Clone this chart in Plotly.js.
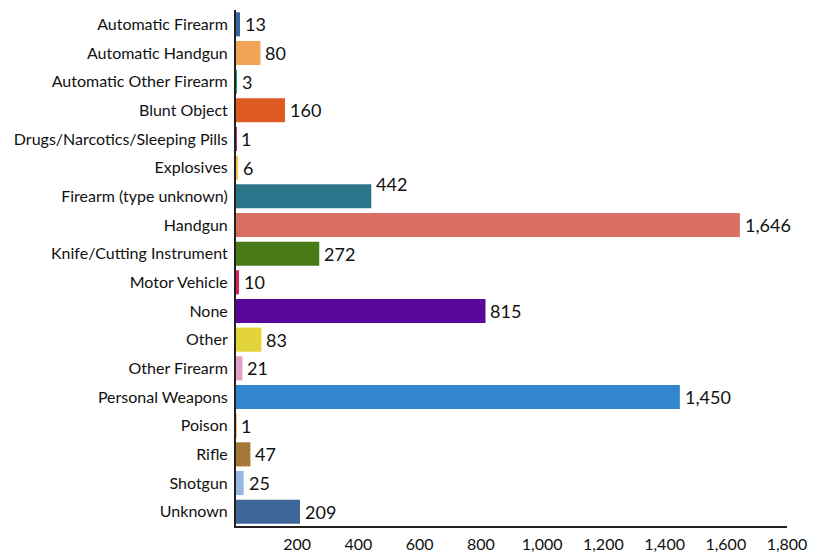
<!DOCTYPE html>
<html><head><meta charset="utf-8">
<script src="https://cdn.plot.ly/plotly-3.0.1.min.js"></script>
<style>html,body{margin:0;padding:0;background:#fff}#chart{width:825px;height:555px}</style>
</head><body><div id="chart"></div>
<script>
const categories = ["Automatic Firearm","Automatic Handgun","Automatic Other Firearm","Blunt Object","Drugs/Narcotics/Sleeping Pills","Explosives","Firearm (type unknown)","Handgun","Knife/Cutting Instrument","Motor Vehicle","None","Other","Other Firearm","Personal Weapons","Poison","Rifle","Shotgun","Unknown"];
const values = [13,80,3,160,1,6,442,1646,272,10,815,83,21,1450,1,47,25,209];
const colors = ["#3a66a0","#f0a455","#17a58a","#dd5a20","#c2207a","#f5c242","#2a758a","#d96e62","#497a16","#d0245a","#5c079c","#e3d43a","#e0a0c8","#3485d0","#f3c070","#a57836","#93b9e3","#3e6699"];
const tickVals = [200,400,600,800,1000,1200,1400,1600,1800];
const tickText = ["200","400","600","800","1,000","1,200","1,400","1,600","1,800"];
const labelYShift = [0,0,0,0,0,0,12,0,0,0,0,0,0,0,0,0,0,0];

const fmt = v => v.toLocaleString("en-US");
const font = "Lato, 'Open Sans', sans-serif";

const annotations = categories.map((c,i)=>({
  x: values[i], y: c, xref:"x", yref:"y", text: fmt(values[i]),
  showarrow:false, xanchor:"left", xshift:3, yshift: labelYShift[i],
  font:{family:font,size:18,color:"#111"}
}));

Plotly.newPlot("chart",[{
  type:"bar", orientation:"h", x: values, y: categories,
  marker:{color: colors}, hoverinfo:"x+y"
}],{
  width:825,height:555,
  margin:{l:236,r:38,t:10,b:29,pad:0},
  bargap:0.16,
  showlegend:false,
  paper_bgcolor:"#fff", plot_bgcolor:"#fff",
  xaxis:{range:[0,1800], tickvals:tickVals, ticktext:tickText, showgrid:false, zeroline:false,
    showline:true, linecolor:"#222", linewidth:2, ticks:"", ticklen:0, ticklabelstandoff:3,
    tickfont:{family:font,size:16,color:"#111"}},
  yaxis:{autorange:"reversed", showline:true, linecolor:"#222", linewidth:2, ticks:"", showgrid:false,
    tickfont:{family:font,size:16,color:"#111"}, ticklabelstandoff:3},
  annotations: annotations
},{displayModeBar:false});
</script></body></html>
